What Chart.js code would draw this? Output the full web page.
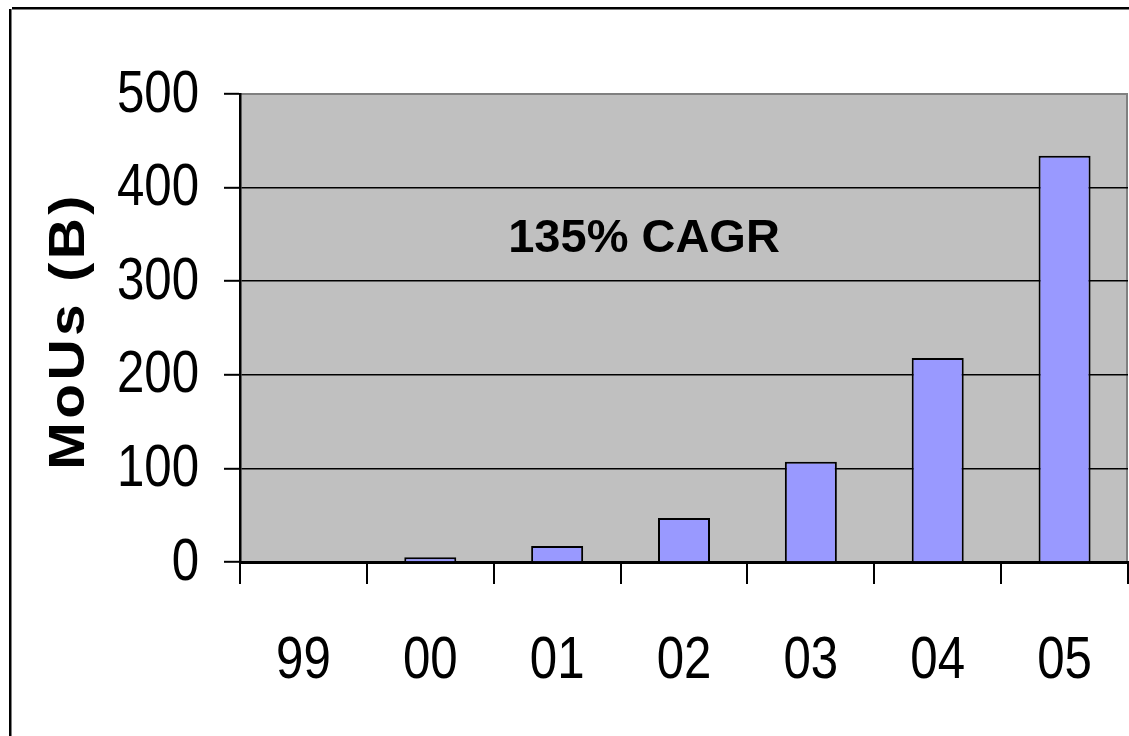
<!DOCTYPE html>
<html>
<head>
<meta charset="utf-8">
<script src="https://cdn.jsdelivr.net/npm/chart.js@4.4.1/dist/chart.umd.min.js"></script>
<style>
  html, body { margin: 0; padding: 0; background: #ffffff; }
  #wrap { position: relative; width: 1129px; height: 736px; }
  canvas { display: block; }
</style>
</head>
<body>
<div id="wrap"><canvas id="chart" width="1129" height="736"></canvas></div>
<script>
// Minutes of use per year (billions)
const years = ['99', '00', '01', '02', '03', '04', '05'];
const mous = [0, 5, 17, 47, 107, 218, 434];
const yTicks = [0, 100, 200, 300, 400, 500];
const growthLabel = '135% CAGR';
const yTitle = 'MoUs (B)';

const sans = '"Liberation Sans", Arial, sans-serif';
const NARROW = 0.82; // horizontal squeeze for condensed tick labels

// Frame lines along the top and left of the slide
const framePlugin = {
  id: 'frame',
  afterDraw(chart) {
    const ctx = chart.ctx;
    ctx.save();
    ctx.strokeStyle = '#000';
    ctx.lineWidth = 2.5;
    ctx.beginPath();
    ctx.moveTo(12, 8.25);
    ctx.lineTo(chart.width, 8.25);
    ctx.moveTo(10.25, 9);
    ctx.lineTo(10.25, chart.height);
    ctx.stroke();
    ctx.restore();
  }
};

// Grey plot-area background with its top/right edge
const plotBgPlugin = {
  id: 'plotBg',
  beforeDraw(chart) {
    const { ctx, chartArea: a } = chart;
    ctx.save();
    ctx.fillStyle = '#C0C0C0';
    ctx.fillRect(a.left, a.top, a.right - a.left, a.bottom - a.top);
    ctx.strokeStyle = '#808080';
    ctx.lineWidth = 2;
    ctx.beginPath();
    ctx.moveTo(a.left, a.top);
    ctx.lineTo(a.right - 1, a.top);
    ctx.lineTo(a.right - 1, a.bottom);
    ctx.stroke();
    ctx.restore();
  }
};

// Condensed tick labels placed from the scales
const tickLabelPlugin = {
  id: 'tickLabels',
  afterDraw(chart) {
    const { ctx, scales } = chart;
    ctx.save();
    ctx.fillStyle = '#000';
    ctx.font = '60px ' + sans;
    ctx.textBaseline = 'middle';

    ctx.textAlign = 'right';
    scales.y.ticks.forEach((t, i) => {
      const y = scales.y.getPixelForTick(i);
      ctx.save();
      ctx.translate(199, y + 1);
      ctx.scale(NARROW, 1);
      ctx.fillText(String(t.value), 0, 0);
      ctx.restore();
    });

    ctx.textAlign = 'center';
    years.forEach((label, i) => {
      const x = scales.x.getPixelForValue(i);
      ctx.save();
      ctx.translate(x, 661);
      ctx.scale(NARROW, 1);
      ctx.fillText(label, 0, 0);
      ctx.restore();
    });
    ctx.restore();
  }
};

// Growth annotation and rotated axis title
const textPlugin = {
  id: 'texts',
  afterDraw(chart) {
    const { ctx, chartArea: a, scales } = chart;
    ctx.save();
    ctx.fillStyle = '#000';
    ctx.font = 'bold 47px ' + sans;
    ctx.textAlign = 'center';
    ctx.textBaseline = 'middle';
    const cx = a.left + (a.right - a.left) * 0.455;
    ctx.fillText(growthLabel, cx, scales.y.getPixelForValue(345));

    ctx.translate(70, (a.top + a.bottom) / 2 + 3);
    ctx.rotate(-Math.PI / 2);
    ctx.scale(1.14, 1);
    ctx.font = 'bold 50px ' + sans;
    if ('letterSpacing' in ctx) ctx.letterSpacing = '3px';
    ctx.fillText(yTitle, 0, 0);
    ctx.restore();
  }
};

new Chart(document.getElementById('chart'), {
  type: 'bar',
  data: {
    labels: years,
    datasets: [{
      data: mous,
      backgroundColor: '#9999FF',
      borderColor: '#000000',
      borderWidth: 2,
      borderSkipped: 'bottom',
      categoryPercentage: 1,
      barPercentage: 0.41
    }]
  },
  options: {
    responsive: false,
    animation: false,
    devicePixelRatio: 1,
    layout: { padding: { top: 94, right: 1, left: 0, bottom: 0 } },
    plugins: { legend: { display: false }, tooltip: { enabled: false } },
    scales: {
      x: {
        grid: {
          offset: true,
          drawOnChartArea: false,
          tickLength: 22,
          tickColor: '#000',
          tickWidth: 2,
          lineWidth: 2
        },
        border: { color: '#000', width: 3 },
        ticks: { display: false },
        afterFit(scale) { scale.height = 736 - 562; }
      },
      y: {
        min: 0,
        max: 500,
        afterBuildTicks(scale) { scale.ticks = yTicks.map(v => ({ value: v })); },
        grid: {
          color: ctx => (ctx.tick && ctx.tick.value === 500) ? 'rgba(0,0,0,0)' : '#000',
          lineWidth: 1.6,
          tickLength: 16,
          tickColor: '#000',
          tickWidth: 2
        },
        border: { color: '#000', width: 2.5 },
        ticks: { display: false },
        afterFit(scale) { scale.width = 240; }
      }
    }
  },
  plugins: [plotBgPlugin, framePlugin, tickLabelPlugin, textPlugin]
});
</script>
</body>
</html>
